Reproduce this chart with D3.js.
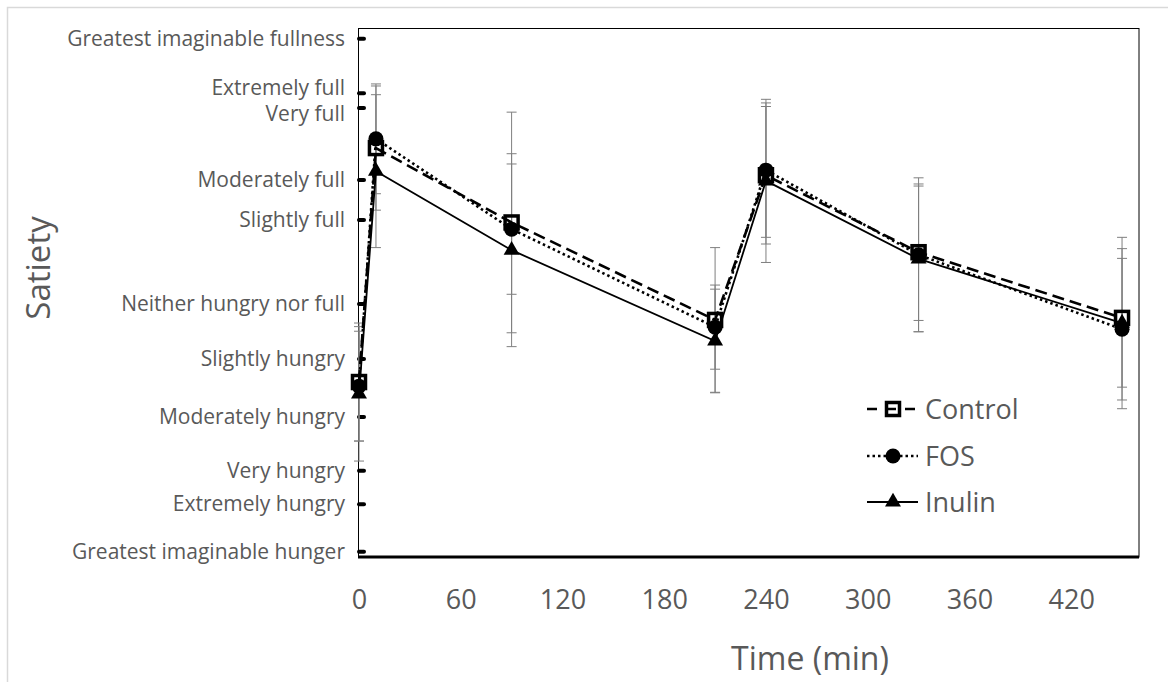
<!DOCTYPE html>
<html>
<head>
<meta charset="utf-8">
<script src="https://d3js.org/d3.v7.min.js"></script>
<style>
    body { margin: 0; background: #fff; }
    svg { display: block; }
    text { font-family: "Open Sans", sans-serif; fill: #595959; }
</style>
</head>
<body>
<div id="chart"></div>
<script>
// sampling times (min)
var times = [0, 10, 90, 210, 240, 330, 450];
var xTicks = [0, 60, 120, 180, 240, 300, 360, 420];

// satiety scale (mm along the labelled line, 0 = greatest hunger, 100 = greatest fullness)
var satietyLabels = ["Greatest imaginable hunger", "Extremely hungry", "Very hungry", "Moderately hungry",
    "Slightly hungry", "Neither hungry nor full", "Slightly full", "Moderately full", "Very full",
    "Extremely full", "Greatest imaginable fullness"];
var satietyValues = [0, 9.3, 15.8, 26.3, 37.6, 48.3, 64.7, 72.5, 86.5, 89.4, 100];

// means and standard errors
var controlMean = [33.1, 78.7, 64.2, 45.2, 73.4, 58.4, 45.6];
var controlSE   = [11.5, 12.1, 21.5, 14.1, 13.4, 13.3, 13.5];
var fosMean     = [32.3, 80.5, 62.9, 43.8, 74.4, 57.9, 43.4];
var fosSE       = [10.7, 10.7, 12.7, 8.2, 13.1, 15.0, 13.8];
var inulinMean  = [30.8, 74.2, 58.8, 41.1, 72.3, 57.1, 44.6];
var inulinSE    = [13.1, 14.9, 18.8, 10.1, 15.9, 14.2, 16.7];

var width = 1168, height = 682;
var plot = {left: 358, right: 1139, top: 28, bottom: 557};

var x = d3.scaleLinear().domain([0, 460]).range([plot.left + 1, plot.right]);
var y = d3.scaleLinear().domain([-1, 102.1]).range([plot.bottom, plot.top]);

var series = [
    {name: "Control", mean: controlMean, se: controlSE, dash: "12,6", lw: 2.6, marker: "square"},
    {name: "FOS", mean: fosMean, se: fosSE, dash: "2.5,3", lw: 2.6, marker: "circle"},
    {name: "Inulin", mean: inulinMean, se: inulinSE, dash: null, lw: 1.8, marker: "triangle"}
];

var svg = d3.select("#chart").append("svg")
    .attr("width", width)
    .attr("height", height);

// chart area border (light grey, runs off the page right and bottom)
svg.append("path")
    .attr("d", "M7.5," + height + "V7.5H" + width)
    .attr("fill", "none")
    .attr("stroke", "#d9d9d9")
    .attr("stroke-width", 1.5);

// plot frame
svg.append("rect")
    .attr("x", plot.left + 0.5)
    .attr("y", plot.top + 0.5)
    .attr("width", plot.right - plot.left - 0.5)
    .attr("height", plot.bottom - plot.top - 0.5)
    .attr("fill", "none")
    .attr("stroke", "#000")
    .attr("stroke-width", 1);

// x axis
var gx = svg.append("g")
    .attr("transform", "translate(0," + plot.bottom + ")")
    .call(d3.axisBottom(x).tickValues(xTicks).tickSize(0).tickSizeOuter(0).tickPadding(33));
gx.select(".domain")
    .attr("d", "M" + plot.left + ",0H" + plot.right)
    .attr("stroke", "#000")
    .attr("stroke-width", 3);
gx.selectAll("text").style("font-size", "27px");

// y axis with word labels
var gy = svg.append("g")
    .attr("transform", "translate(" + plot.left + ",0)")
    .call(d3.axisLeft(y).tickValues(satietyValues)
        .tickFormat(function(d, i) { return satietyLabels[i]; })
        .tickSize(0).tickPadding(13));
gy.select(".domain").remove();
gy.selectAll("text").style("font-size", "21px");

// push apart labels that sit too close together
var labelY = satietyValues.map(function(v) { return y(v); });
var minGap = 26;
for (var it = 0; it < 20; it++) {
    for (var i = 0; i < labelY.length - 1; i++) {
        var gap = labelY[i] - labelY[i + 1];
        if (gap < minGap) {
            var push = (minGap - gap) / 2;
            labelY[i] += push;
            labelY[i + 1] -= push;
        }
    }
}
gy.selectAll(".tick text").attr("y", function(d, i) { return labelY[i] - y(d); });

// scale points on the axis
svg.selectAll(".scaledot")
    .data(satietyValues)
    .enter().append("line")
    .attr("class", "scaledot")
    .attr("x1", plot.left + 1).attr("x2", plot.left + 6)
    .attr("y1", y).attr("y2", y)
    .attr("stroke", "#000")
    .attr("stroke-width", 4)
    .attr("stroke-linecap", "round");

// error bars
var cap = 5;
series.forEach(function(s) {
    var g = svg.append("g").attr("stroke", "#7f7f7f").attr("stroke-width", 1);
    times.forEach(function(t, i) {
        var x0 = x(t), lo = y(s.mean[i] - s.se[i]), hi = y(s.mean[i] + s.se[i]);
        g.append("line").attr("x1", x0).attr("x2", x0).attr("y1", lo).attr("y2", hi);
        g.append("line").attr("x1", x0 - cap).attr("x2", x0 + cap).attr("y1", lo).attr("y2", lo);
        g.append("line").attr("x1", x0 - cap).attr("x2", x0 + cap).attr("y1", hi).attr("y2", hi);
    });
});

// lines
var line = d3.line()
    .x(function(d) { return x(d[0]); })
    .y(function(d) { return y(d[1]); });

series.forEach(function(s) {
    svg.append("path")
        .datum(times.map(function(t, i) { return [t, s.mean[i]]; }))
        .attr("d", line)
        .attr("fill", "none")
        .attr("stroke", "#000")
        .attr("stroke-width", s.lw)
        .attr("stroke-dasharray", s.dash);
});

function drawMarker(g, type, cx, cy) {
    if (type === "square") {
        g.append("rect")
            .attr("x", cx - 6.5).attr("y", cy - 6.5)
            .attr("width", 13).attr("height", 13)
            .attr("fill", "none")
            .attr("stroke", "#000")
            .attr("stroke-width", 3.5);
    } else if (type === "circle") {
        g.append("circle").attr("cx", cx).attr("cy", cy).attr("r", 7.5).attr("fill", "#000");
    } else {
        g.append("path")
            .attr("d", d3.symbol().type(d3.symbolTriangle).size(110)())
            .attr("transform", "translate(" + cx + "," + cy + ")")
            .attr("fill", "#000");
    }
}

// markers, control drawn last so it sits on top
[2, 1, 0].forEach(function(k) {
    var s = series[k];
    var g = svg.append("g");
    times.forEach(function(t, i) { drawMarker(g, s.marker, x(t), y(s.mean[i])); });
});

// legend
var legendRows = [409, 456, 502];
series.forEach(function(s, i) {
    var ly = legendRows[i];
    var g = svg.append("g");
    g.append("line")
        .attr("x1", 867).attr("x2", 918)
        .attr("y1", ly).attr("y2", ly)
        .attr("stroke", "#000")
        .attr("stroke-width", s.lw)
        .attr("stroke-dasharray", s.marker === "square" ? "10,9" : s.dash);
    drawMarker(g, s.marker, 893, ly);
    g.append("text")
        .attr("x", 925)
        .attr("y", ly + 10)
        .style("font-size", "27px")
        .text(s.name);
});

// axis titles
svg.append("text")
    .attr("transform", "translate(50,268) rotate(-90)")
    .attr("text-anchor", "middle")
    .style("font-size", "33px")
    .text("Satiety");

svg.append("text")
    .attr("x", 810)
    .attr("y", 670)
    .attr("text-anchor", "middle")
    .style("font-size", "32px")
    .text("Time (min)");
</script>
</body>
</html>
